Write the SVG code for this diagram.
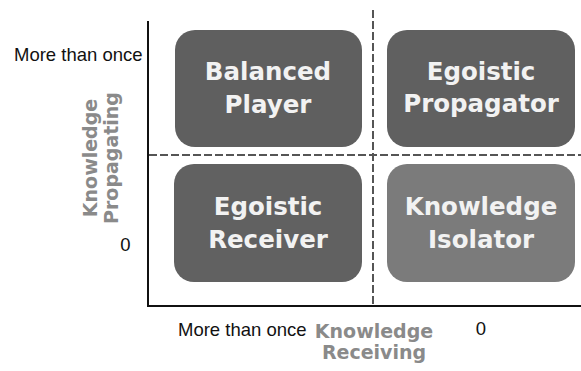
<svg xmlns="http://www.w3.org/2000/svg" width="581" height="371" viewBox="0 0 581 371">
<style>
.box{stroke:none}
.bt{font-family:"DejaVu Sans","Liberation Sans",sans-serif;font-weight:bold;font-size:24.5px;fill:#f2f2f2;text-anchor:middle}
.ax{font-family:"DejaVu Sans","Liberation Sans",sans-serif;font-weight:bold;font-size:19px;fill:#8a8a8a;text-anchor:middle}
.tk{font-family:"Liberation Sans",Arial,sans-serif;font-size:18.5px;fill:#111}
.dash{stroke:#555;stroke-width:2;stroke-dasharray:8 3;fill:none}
.axis{stroke:#111;stroke-width:2;fill:none}
</style>
<rect width="581" height="371" fill="#ffffff"/>
<g id="connectors">
<line class="dash" x1="373" y1="10" x2="373" y2="305"/>
<line class="dash" x1="149" y1="155" x2="581" y2="155"/>
<polyline class="axis" points="148,21 148,306 581,306"/>
</g>
<g id="balanced-player">
<rect class="box" x="175" y="30" width="187" height="117" rx="20" fill="#5f5f5f"/>
<text class="bt" x="268" y="80">Balanced</text>
<text class="bt" x="268" y="113">Player</text>
</g>
<g id="egoistic-propagator">
<rect class="box" x="387" y="30" width="188" height="117" rx="20" fill="#606060"/>
<text class="bt" x="481" y="80">Egoistic</text>
<text class="bt" x="481" y="112">Propagator</text>
</g>
<g id="egoistic-receiver">
<rect class="box" x="174" y="164" width="188" height="118" rx="20" fill="#616161"/>
<text class="bt" x="268" y="215">Egoistic</text>
<text class="bt" x="268" y="248">Receiver</text>
</g>
<g id="knowledge-isolator">
<rect class="box" x="387" y="164" width="188" height="118" rx="20" fill="#7b7b7b"/>
<text class="bt" x="481" y="215">Knowledge</text>
<text class="bt" x="481" y="248">Isolator</text>
</g>
<g id="y-axis-label">
<text class="ax" transform="translate(97,158) rotate(-90)">Knowledge</text>
<text class="ax" transform="translate(118,158) rotate(-90)">Propagating</text>
</g>
<g id="x-axis-label">
<text class="ax" x="374" y="338">Knowledge</text>
<text class="ax" x="374" y="359">Receiving</text>
</g>
<g id="ticks">
<text class="tk" x="14" y="61">More than once</text>
<text class="tk" x="125.5" y="251" text-anchor="middle">0</text>
<text class="tk" x="178" y="336">More than once</text>
<text class="tk" x="481" y="335" text-anchor="middle">0</text>
</g>
</svg>
